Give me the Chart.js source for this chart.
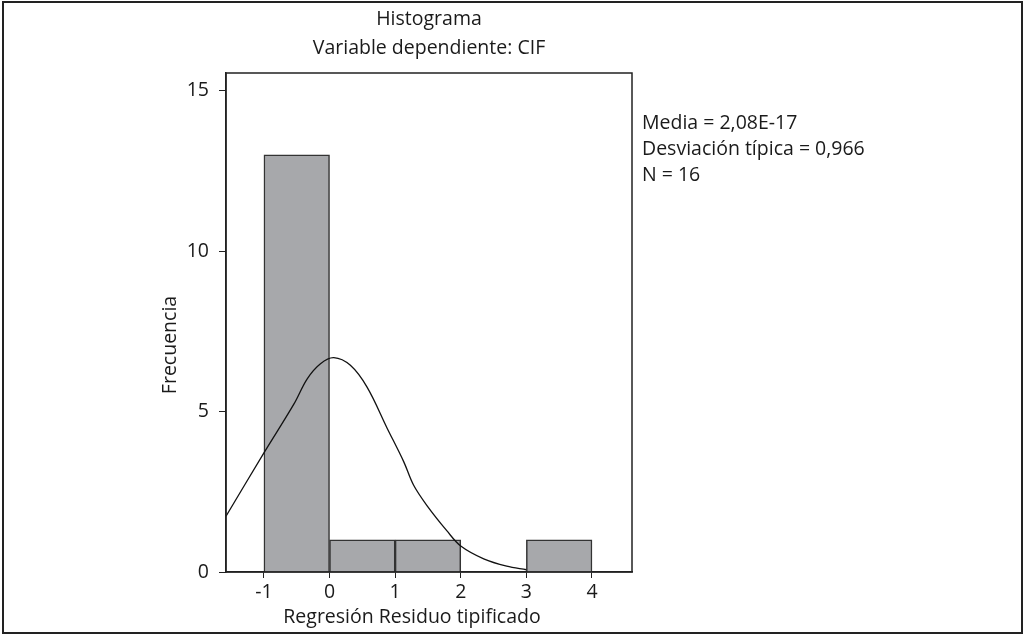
<!DOCTYPE html>
<html lang="es">
  <head>
    <meta charset="UTF-8" />
    <title>Histograma - Variable dependiente: CIF</title>
    <script src="https://cdn.jsdelivr.net/npm/chart.js@4"></script>
    <style>
      body { margin: 0; background: #fff; }
      #wrap { width: 1024px; height: 636px; }
    </style>
  </head>
  <body>
    <div id="wrap"><canvas id="myChart" width="1024" height="636"></canvas></div>

    <script>
      // histogram bins (left edge of each bin, width 1) and counts
      const binStarts = [-1, 0, 1, 3];
      const binCounts = [13, 1, 1, 1];

      // normal curve
      const curveX = [-1.578, -1, -0.544, -0.34, -0.138, 0.065, 0.318, 0.572, 0.876, 1.13, 1.28, 1.485, 1.79, 2.0, 2.35, 2.7, 3.0];
      const curveY = [1.74, 3.71, 5.23, 6.02, 6.49, 6.68, 6.44, 5.76, 4.49, 3.44, 2.71, 2.07, 1.28, 0.81, 0.41, 0.18, 0.07];

      const titleLines = ['Histograma', 'Variable dependiente: CIF'];
      const statsLines = ['Media = 2,08E-17', 'Desviación típica = 0,966', 'N = 16'];
      const xTitle = 'Regresión Residuo tipificado';
      const yTitle = 'Frecuencia';

      const FONT = '"Open Sans", "Noto Sans", sans-serif';
      const FSIZE = 19.5;
      const INK = '#1a1a1a';

      const textPlugin = {
        id: 'texts',
        beforeDraw(chart) {
          const c = chart.ctx;
          c.save();
          c.strokeStyle = '#222';
          c.lineWidth = 2;
          c.strokeRect(3, 2, 1019, 631);
          c.restore();
        },
        afterDraw(chart) {
          const c = chart.ctx;
          const a = chart.chartArea;
          c.save();
          // plot box
          c.strokeStyle = '#222';
          c.lineWidth = 1.5;
          c.strokeRect(a.left, a.top, a.right - a.left, a.bottom - a.top);

          c.fillStyle = INK;
          c.font = FSIZE + 'px ' + FONT;
          c.textAlign = 'center';
          c.textBaseline = 'middle';
          c.fillText(titleLines[0], 429, 19);
          c.fillText(titleLines[1], 429, 48);
          c.fillText(xTitle, 412, 617);

          c.textAlign = 'left';
          statsLines.forEach((s, i) => c.fillText(s, 642, 123 + i * 26));

          c.translate(170, 345);
          c.rotate(-Math.PI / 2);
          c.textAlign = 'center';
          c.fillText(yTitle, 0, 0);
          c.restore();
        }
      };

      const ctx = document.getElementById('myChart').getContext('2d');
      const myChart = new Chart(ctx, {
        data: {
          datasets: [
            {
              type: 'line',
              data: curveX.map((x, i) => ({ x: x, y: curveY[i] })),
              borderColor: '#111',
              borderWidth: 1.3,
              pointRadius: 0,
              tension: 0.35,
              fill: false
            },
            {
              type: 'bar',
              data: binStarts.map((s, i) => ({ x: s + 0.5, y: binCounts[i] })),
              backgroundColor: '#a7a8ab',
              borderColor: '#333',
              borderWidth: 1.5,
              barPercentage: 1,
              categoryPercentage: 1,
              grouped: false
            }
          ]
        },
        options: {
          responsive: false,
          animation: false,
          events: [],
          layout: { padding: { left: 0, top: 73, right: 392, bottom: 0 } },
          plugins: { legend: { display: false }, tooltip: { enabled: false }, title: { display: false } },
          scales: {
            x: {
              type: 'linear',
              min: -1.578,
              max: 4.61,
              offset: false,
              afterFit: s => { s.height = 64; },
              border: { display: true, color: '#222', width: 1.5 },
              grid: { offset: false, drawOnChartArea: false, drawTicks: true, tickLength: 6, color: '#222' },
              ticks: { stepSize: 1, includeBounds: false, padding: 3, color: INK, font: { family: FONT, size: FSIZE } }
            },
            y: {
              min: 0,
              max: 15.55,
              afterFit: s => { s.width = 226; },
              border: { display: true, color: '#222', width: 1.5 },
              grid: { drawOnChartArea: false, drawTicks: true, tickLength: 7, color: '#222' },
              ticks: { stepSize: 5, includeBounds: false, padding: 10, color: INK, font: { family: FONT, size: FSIZE } }
            }
          }
        },
        plugins: [textPlugin]
      });
    </script>
  </body>
</html>
